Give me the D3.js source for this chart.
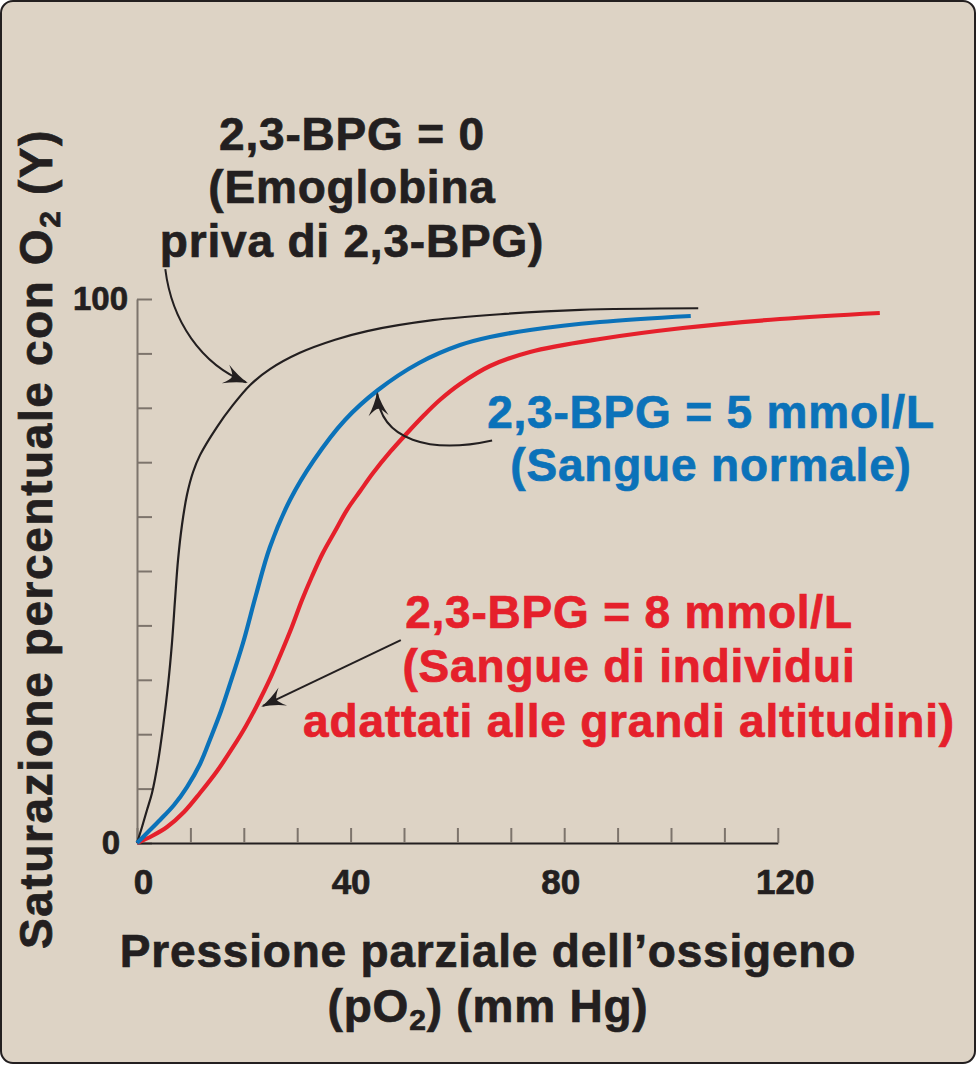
<!DOCTYPE html>
<html><head><meta charset="utf-8">
<script src="https://cdn.jsdelivr.net/npm/d3@7"></script>
<style>
html,body{margin:0;padding:0;background:#fff;}
svg{display:block;}
text{font-family:"Liberation Sans",Arial,Helvetica,sans-serif;font-weight:bold;}
</style></head>
<body><svg id="chart" width="976" height="1065"></svg>
<script>
// ---- data (pO2 in mm Hg, saturation in %) ----
const blackX = [0, 0.94, 1.87, 2.81, 3.93, 4.87, 5.81, 6.55, 7.12, 7.68, 8.43, 9.36, 10.5, 11.8, 15.0, 17.8, 21.2, 24.9, 30.5, 37.1, 43.1, 55.4, 68.0, 83.0, 105.1];
const blackY = [0, 2.94, 6.07, 9.19, 14.9, 21.3, 29.0, 36.8, 44.7, 52.0, 58.5, 64.0, 68.2, 71.3, 76.5, 80.3, 84.2, 87.1, 90.1, 92.5, 94.1, 96.1, 97.2, 98.0, 98.3];
const blueX = [0, 2.06, 4.31, 6.93, 9.36, 11.8, 13.86, 15.73, 17.23, 19.85, 22.28, 24.9, 28.65, 33.15, 38.95, 45.13, 52.81, 60.49, 66.1, 73.6, 86.7, 103.7];
const blueY = [0, 2.02, 4.23, 6.99, 10.29, 14.52, 19.49, 24.26, 28.68, 36.76, 45.59, 54.41, 63.05, 70.4, 77.76, 83.27, 88.24, 91.54, 93.01, 94.3, 95.77, 96.88];
const redX = [0, 2.81, 5.62, 8.8, 11.8, 15.0, 18.0, 20.4, 22.7, 24.9, 27.0, 29.0, 30.9, 32.8, 34.8, 37.1, 39.3, 41.8, 44.2, 47.4, 50.6, 53.6, 56.7, 60.5, 66.1, 73.6, 86.7, 102.2, 120.4, 139.1];
const redY = [0, 1.29, 2.94, 5.7, 9.19, 13.24, 17.65, 21.51, 25.74, 30.15, 34.93, 39.71, 44.67, 49.08, 53.31, 57.35, 61.21, 64.71, 68.01, 71.88, 75.37, 78.49, 81.43, 84.38, 87.68, 90.26, 92.65, 94.67, 96.32, 97.43];
const xTicks = [0, 10, 20, 30, 40, 50, 60, 70, 80, 90, 100, 110, 120];
const xTickLabels = [0, 40, 80, 120];
const yTicks = [0, 10, 20, 30, 40, 50, 60, 70, 80, 90, 100];
const yTickLabels = [0, 100];
const blackLabel = ["2,3-BPG = 0", "(Emoglobina", "priva di 2,3-BPG)"];
const blueLabel = ["2,3-BPG = 5 mmol/L", "(Sangue normale)"];
const redLabel = ["2,3-BPG = 8 mmol/L", "(Sangue di individui", "adattati alle grandi altitudini)"];

const svg = d3.select("#chart");
const BG = "#ddd3c5", INK = "#231f20", GRAY = "#7d746c";
const BLUE = "#0b72b9", RED = "#e5202b";

svg.append("rect").attr("x",1).attr("y",1).attr("width",974).attr("height",1062)
  .attr("rx",12).attr("fill",BG).attr("stroke",INK).attr("stroke-width",2);

const x = d3.scaleLinear().domain([0,120]).range([137,777.8]);
const y = d3.scaleLinear().domain([0,100]).range([843,299]);

function heavy(sel, color){
  sel.attr("fill",color).attr("stroke",color).attr("stroke-width",0.7)
    .attr("font-family","Liberation Sans, Arial, sans-serif").attr("font-weight","bold");
}

// y axis (ticks inward)
const gy = svg.append("g").attr("transform",`translate(${x(0)},0)`)
  .call(d3.axisRight(y).tickValues(yTicks).tickSize(15).tickSizeOuter(0).tickFormat(""));
gy.select(".domain").attr("stroke",GRAY).attr("stroke-width",2);
gy.selectAll(".tick line").attr("stroke",GRAY).attr("stroke-width",2);

const gyl = svg.append("g").attr("transform",`translate(${x(0)},0)`)
  .call(d3.axisLeft(y).tickValues(yTickLabels).tickSize(0).tickPadding(9));
gyl.select(".domain").remove();
gyl.selectAll("text").attr("font-size",33).attr("dx", d => d === 0 ? -8 : 0).call(heavy, INK);

// x axis (ticks upward)
const gx = svg.append("g").attr("transform",`translate(0,${y(0)})`)
  .call(d3.axisTop(x).tickValues(xTicks).tickSize(15).tickSizeOuter(0).tickFormat(""));
gx.select(".domain").attr("stroke",INK).attr("stroke-width",2);
gx.selectAll(".tick line").attr("stroke",GRAY).attr("stroke-width",2);

const xOff = {0:6, 40:0, 80:-4, 120:7};
const gxl = svg.append("g").attr("transform",`translate(0,${y(0)})`)
  .call(d3.axisBottom(x).tickValues(xTickLabels).tickSize(0).tickPadding(26));
gxl.select(".domain").remove();
gxl.selectAll("text").attr("font-size",35).attr("dx", d => xOff[d] || 0).call(heavy, INK);

// curves
const line = d3.line().x(d=>x(d[0])).y(d=>y(d[1])).curve(d3.curveCatmullRom.alpha(0.5));
function series(xs, ys){ return xs.map((v,i)=>[v, ys[i]]); }
svg.append("path").datum(series(blackX,blackY)).attr("d",line)
  .attr("fill","none").attr("stroke",INK).attr("stroke-width",2.2);
svg.append("path").datum(series(redX,redY)).attr("d",line)
  .attr("fill","none").attr("stroke",RED).attr("stroke-width",4.2);
svg.append("path").datum(series(blueX,blueY)).attr("d",line)
  .attr("fill","none").attr("stroke",BLUE).attr("stroke-width",4.2);

// arrow marker
svg.append("defs").append("marker").attr("id","arr")
  .attr("viewBox","-26 -12 30 24").attr("refX",0).attr("refY",0)
  .attr("markerWidth",30).attr("markerHeight",24).attr("markerUnits","userSpaceOnUse")
  .attr("orient","auto")
  .append("path").attr("d","M2,0 Q-10,-3 -22,-10 Q-15,-3 -15,0 Q-15,3 -22,10 Q-10,3 2,0 Z").attr("fill",INK);

// annotation arrows (in data units)
function arrowPath(p){
  const pts = p.map(d=>[x(d[0]), y(d[1])]);
  if (pts.length === 2) return `M${pts[0]}L${pts[1]}`;
  return `M${pts[0]}C${pts[1]} ${pts[2]} ${pts[3]}`;
}
const arrows = [
  [[5.3,105.5],[6.5,96],[12,88],[20.4,84.7]],
  [[66.5,74],[55,71.5],[45.5,74],[45.0,82.6]],
  [[49.4,37.3],[23.6,25.2]]
];
arrows.forEach(a=>{
  svg.append("path").attr("d",arrowPath(a)).attr("fill","none")
    .attr("stroke",INK).attr("stroke-width",2).attr("marker-end","url(#arr)");
});

// text blocks
function block(lines, cx, baselines, color){
  const t = svg.append("g");
  lines.forEach((s,i)=>{
    t.append("text").attr("x",cx).attr("y",baselines[i]).attr("text-anchor","middle")
      .attr("font-size",46).attr("letter-spacing",0.8).call(heavy, color).text(s);
  });
}
block(blackLabel, 352, [150,203,257], INK);
block(blueLabel, 711, [428,481], BLUE);
block(redLabel, 629, [628,682,737], RED);

// x title
svg.append("text").attr("x",488).attr("y",967).attr("text-anchor","middle")
  .attr("font-size",46).attr("letter-spacing",0.8).call(heavy, INK)
  .text("Pressione parziale dell\u2019ossigeno");
const xt2 = svg.append("text").attr("x",488).attr("y",1022).attr("text-anchor","middle")
  .attr("font-size",46).attr("letter-spacing",0.8).call(heavy, INK);
xt2.append("tspan").text("(pO");
xt2.append("tspan").attr("font-size",30).attr("dy",8).text("2");
xt2.append("tspan").attr("dy",-8).text(") (mm Hg)");

// y title
const yt = svg.append("text").attr("transform","translate(52,539) rotate(-90)")
  .attr("text-anchor","middle").attr("font-size",46).attr("letter-spacing",1.6).call(heavy, INK);
yt.append("tspan").text("Saturazione percentuale con O");
yt.append("tspan").attr("font-size",30).attr("dy",8).text("2");
yt.append("tspan").attr("dy",-8).text(" (Y)");
</script></body></html>
